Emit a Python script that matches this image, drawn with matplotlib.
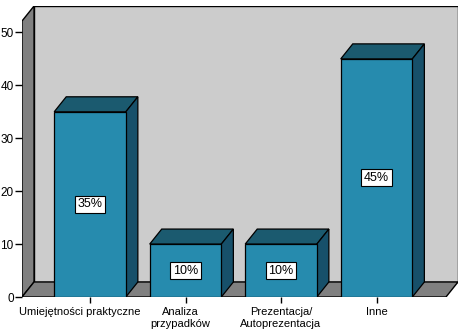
import matplotlib
matplotlib.use("Agg")
import matplotlib.pyplot as plt
import matplotlib.transforms as mtransforms
from matplotlib.patches import Polygon

plt.rcParams['font.family'] = ['Liberation Sans', 'DejaVu Sans']

categories = ["Umiejętności praktyczne", "Analiza\nprzypadków",
              "Prezentacja/\nAutoprezentacja", "Inne"]
values = [35, 10, 10, 45]
pct_labels = ["35%", "10%", "10%", "45%"]
yticks = [0, 10, 20, 30, 40, 50]

# depth of the 3d effect (data units)
dx, dy = 0.126, 2.84
xmin, xmax = -0.712, 3.853
ymax = 55.0
wall_top = ymax - dy
bw = 0.75

front = "#268bae"
top_c = "#1b5a6f"
side_c = "#17506a"

fig = plt.figure(figsize=(4.64, 3.32), dpi=100)
ax = fig.add_axes([22/464, 35/332, 436/464, 291/332])
ax.set_xlim(xmin, xmax)
ax.set_ylim(0, ymax)
for s in ax.spines.values():
    s.set_visible(False)

# walls
ax.add_patch(Polygon([(xmin + dx, dy), (xmax, dy), (xmax, ymax), (xmin + dx, ymax)],
                     closed=True, fc="#cccccc", ec="black", lw=1, zorder=1))
ax.add_patch(Polygon([(xmin, 0), (xmin, wall_top), (xmin + dx, ymax), (xmin + dx, dy)],
                     closed=True, fc="#808080", ec="black", lw=1, zorder=1))
ax.add_patch(Polygon([(xmin, 0), (xmax - dx, 0), (xmax, dy), (xmin + dx, dy)],
                     closed=True, fc="#808080", ec="black", lw=1, zorder=1))

for i, v in enumerate(values):
    x0, x1 = i - bw/2, i + bw/2
    ax.add_patch(Polygon([(x0, v), (x1, v), (x1 + dx, v + dy), (x0 + dx, v + dy)],
                         closed=True, fc=top_c, ec="black", lw=0.9, zorder=3))
    ax.add_patch(Polygon([(x1, 0), (x1 + dx, dy), (x1 + dx, v + dy), (x1, v)],
                         closed=True, fc=side_c, ec="black", lw=0.9, zorder=3))
ax.bar(range(len(values)), values, width=bw, color=front, edgecolor="black",
       linewidth=0.9, zorder=4)

for i, (v, t) in enumerate(zip(values, pct_labels)):
    ax.text(i, v/2, t, ha="center", va="center", fontsize=9, zorder=5,
            bbox=dict(boxstyle="square,pad=0.2", fc="white", ec="black", lw=0.8))

ax.set_yticks(yticks)
ax.set_xticks(range(len(categories)))
ax.set_xticklabels(categories, fontsize=8, linespacing=1.15)
ax.tick_params(axis="y", labelsize=8.5, length=5, width=1, pad=1)
ax.tick_params(axis="x", length=4.5, width=1, pad=3)

# first two labels sit a little left of their ticks in the original
shifts = [-10, -5, 0, 0]
for lab, sh in zip(ax.get_xticklabels(), shifts):
    lab.set_transform(lab.get_transform() +
                      mtransforms.ScaledTranslation(sh/100, 0, fig.dpi_scale_trans))

fig.savefig("out.png", dpi=100)
